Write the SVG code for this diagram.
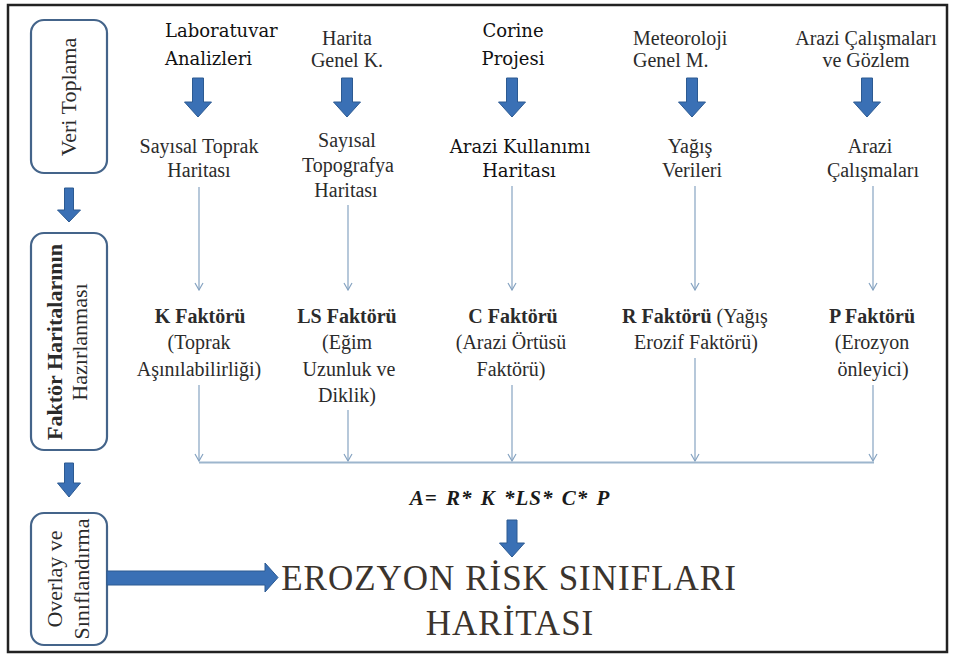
<svg xmlns="http://www.w3.org/2000/svg" width="954" height="657" viewBox="0 0 954 657">
<defs>
<style>
.lbl{font-family:"Liberation Serif","Times New Roman",serif;font-size:20px;fill:#2b2b2b;text-anchor:middle}
.cam{font-family:"DejaVu Serif","Liberation Serif",serif;font-size:18px;fill:#111;text-anchor:middle}
.bold{font-weight:bold}
.box{fill:#fff;stroke:#44648a;stroke-width:2.2}
.bt{font-family:"Liberation Serif","Times New Roman",serif;font-size:22px;fill:#2b2b2b;text-anchor:middle}
.ba{fill:#3a70b5;stroke:#2c5a92;stroke-width:1}
.thin{stroke:#86a3c1;stroke-width:1.2;fill:none}
.title{font-family:"Liberation Serif","Times New Roman",serif;font-size:35px;fill:#3b342d;text-anchor:middle;letter-spacing:1px}
</style>
<marker id="ah" viewBox="0 0 10 10" refX="9" refY="5" markerWidth="10" markerHeight="10" markerUnits="userSpaceOnUse" orient="auto">
<path d="M2,1 L9,5 L2,9" fill="none" stroke="#86a3c1" stroke-width="1.2"/>
</marker>
<path id="topArrow" class="ba" d="M-5.5,0 H5.5 V24 H13.5 L0,39 L-13.5,24 H-5.5 Z"/>
</defs>
<rect x="8" y="5" width="939" height="647" fill="#fff" stroke="#222" stroke-width="2.5"/>

<g id="box-veri-toplama">
<rect class="box" x="31" y="20" width="76" height="153" rx="13"/>
<text class="bt" transform="translate(76,97) rotate(-90)">Veri Toplama</text>
</g>
<g id="box-faktor">
<rect class="box" x="31" y="233" width="76" height="217" rx="13"/>
<text class="bt bold" transform="translate(62,342) rotate(-90)">Faktör Haritalarının</text>
<text class="bt" transform="translate(87,342) rotate(-90)">Hazırlanması</text>
</g>
<g id="box-overlay">
<rect class="box" x="31" y="513" width="76" height="132" rx="13"/>
<text class="bt" transform="translate(62,579) rotate(-90)">Overlay ve</text>
<text class="bt" transform="translate(89,579) rotate(-90)">Sınıflandırma</text>
</g>

<g id="col1">
<text class="cam" x="165" y="37" text-anchor="start" style="text-anchor:start">Laboratuvar</text>
<text class="cam" x="165" y="65" style="text-anchor:start">Analizleri</text>
<text class="lbl" x="199" y="153">Sayısal Toprak</text>
<text class="lbl" x="199" y="177">Haritası</text>
<text class="lbl bold" x="200" y="323">K Faktörü</text>
<text class="lbl" x="199" y="349">(Toprak</text>
<text class="lbl" x="199" y="376">Aşınılabilirliği)</text>
</g>
<g id="col2">
<text class="lbl" x="347" y="45">Harita</text>
<text class="lbl" x="347" y="67">Genel K.</text>
<text class="lbl" x="347" y="147">Sayısal</text>
<text class="lbl" x="348" y="172">Topografya</text>
<text class="lbl" x="346" y="197">Haritası</text>
<text class="lbl bold" x="347" y="323">LS Faktörü</text>
<text class="lbl" x="347" y="349">(Eğim</text>
<text class="lbl" x="349" y="376">Uzunluk ve</text>
<text class="lbl" x="347" y="402">Diklik)</text>
</g>
<g id="col3">
<text class="cam" x="513" y="37">Corine</text>
<text class="cam" x="513" y="65">Projesi</text>
<text class="cam" x="520" y="153">Arazi Kullanımı</text>
<text class="cam" x="519" y="177">Haritası</text>
<text class="lbl bold" x="513" y="323">C Faktörü</text>
<text class="lbl" x="511" y="349">(Arazi Örtüsü</text>
<text class="lbl" x="511" y="376">Faktörü)</text>
</g>
<g id="col4">
<text class="lbl" x="633" y="45" style="text-anchor:start">Meteoroloji</text>
<text class="lbl" x="633" y="67" style="text-anchor:start">Genel M.</text>
<text class="lbl" x="690" y="153">Yağış</text>
<text class="lbl" x="692" y="177">Verileri</text>
<text class="lbl" x="695" y="323"><tspan class="bold">R Faktörü</tspan> (Yağış</text>
<text class="lbl" x="696" y="349">Erozif  Faktörü)</text>
</g>
<g id="col5">
<text class="lbl" x="866" y="45">Arazi Çalışmaları</text>
<text class="lbl" x="866" y="67">ve Gözlem</text>
<text class="lbl" x="870" y="153">Arazi</text>
<text class="lbl" x="873" y="177">Çalışmaları</text>
<text class="lbl bold" x="872" y="323">P Faktörü</text>
<text class="lbl" x="872" y="349">(Erozyon</text>
<text class="lbl" x="873" y="376">önleyici)</text>
</g>

<g id="formula">
<text x="510" y="505" style="font-family:'Liberation Serif','Times New Roman',serif;font-size:21px;font-weight:bold;font-style:italic;fill:#1a1a1a;text-anchor:middle;letter-spacing:1px;word-spacing:2px">A= R* K *LS* C* P</text>
</g>
<g id="result">
<text class="title" x="509" y="590">EROZYON RİSK SINIFLARI</text>
<text class="title" x="510" y="635">HARİTASI</text>
</g>

<g id="connectors">
<use href="#topArrow" x="198" y="78"/>
<use href="#topArrow" x="347" y="78"/>
<use href="#topArrow" x="512" y="78"/>
<use href="#topArrow" x="692" y="78"/>
<use href="#topArrow" x="867" y="78"/>
<path class="ba" d="M64.5,188 H73.5 V210 H80.5 L69,222 L57.5,210 H64.5 Z"/>
<path class="ba" d="M64.5,463 H73.5 V483 H80.5 L69,497 L57.5,483 H64.5 Z"/>
<path class="ba" d="M507,520 H517 V543 H524.5 L512,557 L499.5,543 H507 Z"/>
<path class="ba" d="M107,571 H265 V563 L278,577.5 L265,592 V585 H107 Z"/>
<line class="thin" x1="199" y1="187" x2="199" y2="290" marker-end="url(#ah)"/>
<line class="thin" x1="348" y1="205" x2="348" y2="290" marker-end="url(#ah)"/>
<line class="thin" x1="512" y1="186" x2="512" y2="290" marker-end="url(#ah)"/>
<line class="thin" x1="695" y1="186" x2="695" y2="290" marker-end="url(#ah)"/>
<line class="thin" x1="873" y1="186" x2="873" y2="290" marker-end="url(#ah)"/>
<line class="thin" x1="199" y1="385" x2="199" y2="461" marker-end="url(#ah)"/>
<line class="thin" x1="348" y1="410" x2="348" y2="461" marker-end="url(#ah)"/>
<line class="thin" x1="512" y1="385" x2="512" y2="461" marker-end="url(#ah)"/>
<line class="thin" x1="695" y1="358" x2="695" y2="461" marker-end="url(#ah)"/>
<line class="thin" x1="873" y1="385" x2="873" y2="461" marker-end="url(#ah)"/>
<line x1="199" y1="462.5" x2="874" y2="462.5" stroke="#9db6cd" stroke-width="2"/>
</g>
</svg>
